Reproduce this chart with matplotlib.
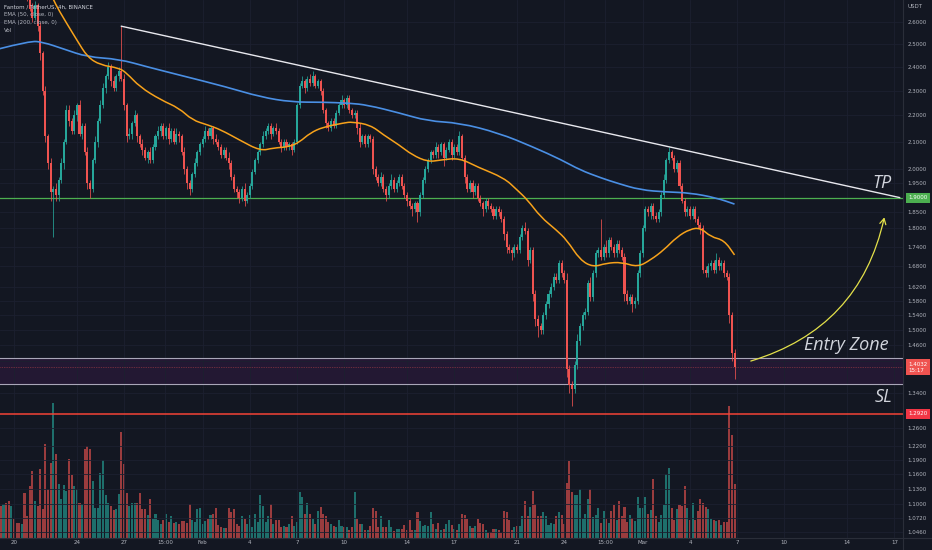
import numpy as np
import matplotlib
matplotlib.use("Agg")
import matplotlib.pyplot as plt
from matplotlib.ticker import FixedLocator, NullLocator
from matplotlib.patches import FancyArrowPatch, PathPatch
from matplotlib.path import Path
from matplotlib.lines import Line2D

# FTM / USDT 4h candles, first candle 19 Jan 00:00
first_open = 2.97
close = [
    2.95, 2.92, 2.98, 2.90, 2.88, 2.93, 2.86, 2.84, 2.80, 2.82,
    2.76, 2.72, 2.66, 2.62, 2.68, 2.58, 2.46, 2.30, 2.12, 2.02,
    1.92, 1.93, 1.91, 1.96, 2.02, 2.10, 2.22, 2.18, 2.14, 2.20,
    2.24, 2.13, 2.16, 2.06, 1.95, 1.93, 2.03, 2.10, 2.18, 2.24,
    2.31, 2.36, 2.40, 2.34, 2.31, 2.36, 2.38, 2.35, 2.24, 2.12,
    2.13, 2.17, 2.20, 2.12, 2.09, 2.07, 2.04, 2.06, 2.03, 2.08,
    2.12, 2.14, 2.16, 2.12, 2.15, 2.11, 2.14, 2.10, 2.13, 2.12,
    2.06, 2.00, 1.95, 1.93, 1.98, 2.02, 2.06, 2.09, 2.11, 2.14,
    2.12, 2.15, 2.11, 2.10, 2.08, 2.05, 2.07, 2.04, 2.02, 1.97,
    1.93, 1.92, 1.90, 1.93, 1.89, 1.91, 1.94, 1.99, 2.03, 2.06,
    2.09, 2.12, 2.14, 2.16, 2.13, 2.15, 2.14, 2.10, 2.08, 2.10,
    2.08, 2.09, 2.07, 2.10, 2.24, 2.32, 2.34, 2.31, 2.35, 2.33,
    2.36, 2.32, 2.34, 2.30, 2.22, 2.17, 2.15, 2.18, 2.16, 2.21,
    2.24, 2.26, 2.24, 2.27, 2.22, 2.20, 2.21, 2.15, 2.10, 2.12,
    2.09, 2.12, 2.11, 2.00, 1.97, 1.95, 1.97, 1.93, 1.91, 1.94,
    1.96, 1.93, 1.95, 1.97, 1.94, 1.91, 1.89, 1.87, 1.86, 1.88,
    1.85, 1.91, 1.96, 2.00, 2.03, 2.06, 2.05, 2.08, 2.06, 2.09,
    2.04, 2.07, 2.10, 2.05, 2.08, 2.06, 2.12, 2.04, 1.97, 1.93,
    1.95, 1.92, 1.94, 1.90, 1.88, 1.86, 1.89, 1.87, 1.86, 1.84,
    1.86, 1.85, 1.83, 1.78, 1.74, 1.73, 1.72, 1.74, 1.73, 1.77,
    1.80, 1.79, 1.70, 1.73, 1.60, 1.53, 1.51, 1.50, 1.54, 1.57,
    1.60, 1.62, 1.65, 1.64, 1.69, 1.66, 1.64, 1.40, 1.36, 1.35,
    1.41, 1.47, 1.51, 1.54, 1.55, 1.63, 1.59, 1.66, 1.72, 1.73,
    1.71, 1.74, 1.72, 1.76, 1.74, 1.72, 1.75, 1.73, 1.71, 1.60,
    1.58, 1.59, 1.57, 1.58, 1.66, 1.72, 1.80, 1.86, 1.85, 1.87,
    1.84, 1.83, 1.85, 1.91, 1.96, 2.03, 2.06, 2.04, 2.00, 2.02,
    1.94, 1.89, 1.85, 1.86, 1.84, 1.86, 1.83, 1.81, 1.80, 1.67,
    1.66, 1.68, 1.69, 1.67, 1.70, 1.68, 1.69, 1.66, 1.65, 1.54,
    1.44, 1.4032,
]
# wick lengths above / below the body, in cents
wick_hi = [
    1, 2, 1, 1, 2, 1, 1, 2, 1, 1, 2, 1, 2, 3, 2, 1, 2, 1, 2, 1,
    2, 1, 2, 1, 2, 1, 2, 2, 1, 2, 1, 2, 1, 1, 2, 1, 1, 2, 1, 2,
    2, 1, 2, 1, 2, 1, 2, 20, 2, 1, 2, 1, 2, 1, 1, 2, 1, 1, 2, 1,
    1, 2, 1, 1, 1, 2, 1, 1, 2, 1, 1, 2, 1, 1, 1, 2, 1, 1, 1, 2,
    1, 1, 1, 2, 1, 1, 1, 1, 2, 1, 1, 1, 1, 1, 2, 1, 1, 1, 1, 1,
    1, 2, 1, 1, 1, 1, 2, 1, 1, 1, 1, 1, 1, 1, 1, 1, 2, 1, 1, 2,
    2, 1, 1, 1, 1, 1, 1, 1, 1, 1, 1, 2, 1, 1, 1, 1, 1, 1, 2, 1,
    1, 1, 1, 1, 1, 1, 2, 1, 1, 1, 2, 1, 1, 1, 1, 1, 1, 1, 1, 1,
    1, 1, 1, 1, 1, 1, 1, 2, 1, 1, 1, 1, 1, 1, 1, 1, 2, 1, 1, 1,
    1, 1, 1, 1, 1, 1, 1, 1, 1, 1, 1, 1, 1, 1, 1, 1, 1, 1, 1, 1,
    1, 2, 1, 1, 1, 1, 1, 1, 1, 1, 1, 1, 1, 1, 1, 1, 1, 2, 1, 1,
    1, 2, 1, 1, 1, 1, 2, 1, 1, 1, 10, 1, 2, 1, 1, 1, 1, 1, 1, 1,
    1, 1, 1, 1, 1, 1, 1, 1, 1, 1, 1, 1, 1, 1, 2, 1, 2, 1, 1, 1,
    1, 1, 1, 1, 1, 1, 1, 1, 1, 1, 1, 1, 1, 1, 2, 1, 1, 1, 1, 1,
    1, 1,
]
wick_lo = [
    2, 1, 1, 2, 1, 2, 1, 1, 2, 1, 1, 2, 1, 2, 1, 2, 3, 2, 2, 2,
    3, 15, 2, 2, 1, 2, 1, 2, 1, 1, 2, 1, 2, 1, 2, 3, 1, 1, 2, 1,
    1, 2, 1, 2, 1, 1, 2, 1, 2, 2, 1, 2, 1, 2, 1, 2, 1, 2, 1, 1,
    1, 1, 2, 1, 1, 2, 1, 1, 1, 2, 1, 2, 2, 2, 1, 1, 1, 1, 1, 1,
    1, 1, 2, 1, 1, 1, 1, 1, 2, 1, 1, 2, 2, 1, 2, 1, 1, 1, 1, 1,
    1, 1, 1, 1, 2, 1, 1, 1, 2, 1, 1, 1, 2, 1, 1, 1, 1, 2, 1, 1,
    1, 1, 1, 2, 1, 2, 1, 1, 1, 1, 1, 1, 1, 1, 1, 1, 1, 2, 2, 1,
    1, 1, 1, 2, 1, 1, 1, 1, 2, 1, 1, 1, 1, 1, 1, 1, 2, 1, 2, 1,
    3, 1, 1, 1, 1, 1, 1, 1, 2, 1, 3, 1, 1, 2, 1, 1, 1, 1, 2, 1,
    1, 2, 1, 1, 1, 2, 1, 1, 1, 1, 1, 1, 1, 2, 2, 1, 2, 1, 1, 1,
    1, 1, 2, 1, 2, 2, 3, 1, 1, 1, 1, 1, 1, 1, 1, 1, 1, 2, 2, 4,
    1, 1, 1, 1, 1, 1, 1, 1, 1, 1, 1, 1, 1, 1, 1, 1, 1, 1, 1, 2,
    1, 1, 2, 1, 1, 1, 1, 1, 1, 2, 1, 1, 1, 1, 1, 1, 1, 1, 1, 1,
    1, 1, 1, 1, 1, 1, 1, 1, 2, 1, 1, 1, 1, 1, 1, 1, 1, 1, 1, 2,
    2, 3,
]
volume = [
    30,
    31, 33, 34, 36, 31, 19, 15, 15, 14, 44,
    22, 51, 66, 36, 31, 68, 28, 93, 48, 74,
    134, 83, 53, 38, 52, 46, 78, 62, 51, 48,
    34, 33, 88, 91, 88, 56, 29, 29, 64, 77,
    42, 34, 31, 27, 28, 43, 105, 73, 44, 31,
    34, 34, 34, 44, 28, 28, 23, 38, 19, 24,
    18, 14, 18, 24, 16, 22, 15, 16, 14, 17,
    17, 15, 33, 18, 16, 28, 29, 14, 17, 19,
    23, 24, 29, 13, 11, 10, 10, 29, 25, 28,
    14, 12, 22, 19, 14, 23, 11, 24, 16, 42,
    31, 16, 22, 33, 14, 18, 18, 11, 12, 11,
    14, 22, 12, 16, 45, 40, 24, 34, 24, 19,
    14, 26, 30, 24, 22, 16, 14, 12, 11, 18,
    12, 11, 11, 8, 11, 45, 19, 14, 14, 8,
    8, 12, 29, 26, 11,
    22, 11, 11, 18, 11, 7, 9, 9, 9, 13,
    8, 18, 8, 8, 25, 17, 12, 13, 12, 25,
    14, 9, 15, 8, 9, 14, 18, 13, 9, 8,
    14, 24, 23, 19, 12, 10, 12, 19, 15, 14,
    8, 5, 6, 9, 9, 8, 5, 26, 25, 18,
    8, 11, 12, 12, 22, 36, 22, 30,
    46, 33, 22, 22, 25, 22, 13, 15, 14, 22,
    25, 23, 14, 54, 76, 45, 42, 42, 48, 19,
    24, 38, 48, 21, 23, 29, 15, 26, 19, 15,
    26, 32, 18, 36, 22, 30, 16, 23, 20,
    17, 40, 29, 29, 40, 24, 27, 58, 22, 16,
    23, 32, 63, 69, 29, 18, 28, 32, 31, 51,
    29, 18, 34, 18, 26, 38, 34, 30, 28, 19,
    18, 17, 18, 13, 16, 16, 131, 102, 53,
]

# indicator values (candle index, price)
ema50_idx = [14, 21, 26, 30, 34, 39, 46, 49, 54, 62,
             69, 74, 80, 85, 92, 100, 105, 111, 115, 119,
             124, 132, 135, 142, 147, 153, 158, 164, 169, 176,
             183, 193, 198, 202, 207, 213, 217, 222, 227, 232,
             238, 244, 249, 254, 259, 264, 268, 272, 277, 281]
ema50_val = [2.90, 2.70, 2.595, 2.517, 2.442, 2.407, 2.395, 2.373, 2.315, 2.262,
             2.229, 2.182, 2.163, 2.144, 2.106, 2.065, 2.076, 2.080, 2.098, 2.132,
             2.155, 2.171, 2.175, 2.163, 2.125, 2.087, 2.050, 2.025, 2.032, 2.039,
             2.006, 1.968, 1.926, 1.892, 1.835, 1.793, 1.761, 1.700, 1.678, 1.690,
             1.693, 1.678, 1.700, 1.730, 1.771, 1.796, 1.800, 1.771, 1.761, 1.715]
ema200_idx = [0, 12, 17, 25, 34, 46, 57, 69, 87, 100,
              112, 123, 134, 141, 153, 164, 176, 191, 204, 215,
              222, 230, 236, 245, 255, 264, 274, 281]
ema200_val = [2.477, 2.513, 2.508, 2.477, 2.442, 2.433, 2.399, 2.365, 2.315, 2.274,
              2.253, 2.253, 2.249, 2.241, 2.210, 2.178, 2.171, 2.132, 2.080, 2.032,
              1.996, 1.968, 1.950, 1.926, 1.919, 1.916, 1.899, 1.878]

trend_idx = [47, 344]
trend_val = [2.58, 1.90]

tp_level = 1.90
sl_level = 1.292
zone_top = 1.427
zone_bottom = 1.362
last_price = 1.4032
last_countdown = "15:17"

arrow_start = (286.2, 1.417)
arrow_end = (338.4, 1.843)

price_ticks = [2.6, 2.5, 2.4, 2.3, 2.2, 2.1, 2.0, 1.95, 1.85, 1.80, 1.74, 1.68,
               1.62, 1.58, 1.54, 1.50, 1.46, 1.42, 1.34, 1.26, 1.22, 1.19,
               1.16, 1.13, 1.10, 1.072, 1.046]
date_days = [0, 4, 7, 9.625, 12, 15, 18, 21, 25, 28, 32, 35, 37.625, 40,
             43, 46, 49, 53, 56]
date_labels = ["20", "24", "27", "15:00", "Feb", "4", "7", "10", "14", "17",
               "21", "24", "15:00", "Mar", "4", "7", "10", "14", "17"]

BG = "#131722"
UP = "#26a69a"
DOWN = "#ef5350"
TXT = "#b2b5be"

close = np.array(close)
opn = np.concatenate([[first_open], close[:-1]])
high = np.maximum(opn, close) + np.array(wick_hi) / 100
low = np.minimum(opn, close) - np.array(wick_lo) / 100
x = np.arange(len(close))
up = close >= opn
colors = np.where(up, UP, DOWN)


def smooth_line(ax, xs, ys, color, lw):
    # quadratic bezier through the midpoints, so the read points give a soft curve
    verts = [(xs[0], ys[0])]
    codes = [Path.MOVETO]
    for k in range(1, len(xs) - 1):
        verts.append((xs[k], ys[k]))
        verts.append(((xs[k] + xs[k + 1]) / 2, (ys[k] + ys[k + 1]) / 2))
        codes += [Path.CURVE3, Path.CURVE3]
    verts.append((xs[-1], ys[-1]))
    codes.append(Path.LINETO)
    ax.add_patch(PathPatch(Path(verts, codes), fill=False, edgecolor=color,
                           lw=lw, zorder=5))


fig = plt.figure(figsize=(9.32, 5.5), dpi=100, facecolor=BG)
rect = [0, 12.3 / 550, 903 / 932, 537.7 / 550]
xlim = (0.656, 345.3)

# volume underneath
axv = fig.add_axes(rect)
axv.bar(x, volume, width=0.78, color=colors, alpha=0.62, linewidth=0)
axv.set_xlim(*xlim)
axv.set_ylim(0, max(volume) * 3.98)
axv.axis("off")

ax = fig.add_axes(rect)
ax.set_facecolor("none")
ax.set_yscale("log")
ax.set_xlim(*xlim)
ax.set_ylim(1.0351, 2.7037)
for s in ax.spines.values():
    s.set_visible(False)

ax.yaxis.set_major_locator(FixedLocator(price_ticks))
ax.yaxis.set_minor_locator(NullLocator())
ax.set_yticklabels([f"{t:.4f}" for t in price_ticks])
ax.yaxis.tick_right()
date_idx = [6 + 6 * d for d in date_days]
ax.set_xticks(date_idx)
ax.set_xticklabels(date_labels)
ax.xaxis.set_minor_locator(NullLocator())
ax.tick_params(axis="y", length=0, pad=3, labelsize=4, labelcolor=TXT)
ax.tick_params(axis="x", length=0, pad=2, labelsize=4, labelcolor=TXT)
ax.grid(True, color="#1c2030", lw=0.6, zorder=0)

# zones and levels
ax.axhspan(zone_bottom, zone_top, color="#9c27b0", alpha=0.12, lw=0, zorder=1)
ax.axhline(zone_top, color="#a9a6b8", lw=0.8, zorder=2)
ax.axhline(zone_bottom, color="#a9a6b8", lw=0.8, zorder=2)
ax.axhline(last_price, color=DOWN, lw=0.5, ls=(0, (1, 1.5)), alpha=0.7, zorder=2)
ax.axhline(tp_level, color="#4caf50", lw=0.9, zorder=2)
ax.axhline(sl_level, color="#f44336", lw=1.1, zorder=2)

# candles
ax.vlines(x, low, high, colors=colors, lw=0.55, zorder=3)
body = np.maximum(np.abs(close - opn), 0.002)
ax.bar(x, body, bottom=np.minimum(opn, close), width=0.78, color=colors,
       linewidth=0, zorder=4)

smooth_line(ax, ema200_idx, ema200_val, "#4a8fe4", 1.2)
smooth_line(ax, ema50_idx, ema50_val, "#f7a21b", 1.1)
ax.plot(trend_idx, trend_val, color="#e8e8ee", lw=1.0, zorder=5)

arrow = FancyArrowPatch(arrow_start, arrow_end, connectionstyle="arc3,rad=0.3",
                        arrowstyle="->,head_length=4,head_width=2.2",
                        color="#e3e04a", lw=0.9, zorder=6)
ax.add_patch(arrow)

note = dict(color="#d1d4dc", fontsize=13, style="italic",
            family="Open Sans", ha="center", va="center", zorder=7)
ax.text(337.3, 1.95, "TP", **note)
ax.text(323.6, 1.46, "Entry Zone", **note)
ax.text(337.7, 1.331, "SL", **note)


# price tags on the scale
def tag(val, text, color):
    ax.annotate(text, xy=(1.0, val), xycoords=("axes fraction", "data"),
                xytext=(5, 0), textcoords="offset pixels", ha="left",
                va="center", fontsize=4, color="white", annotation_clip=False,
                bbox=dict(boxstyle="square,pad=0.45", fc=color, ec="none"),
                zorder=8)


tag(tp_level, f"{tp_level:.4f}", "#4caf50")
tag(last_price, f"{last_price:.4f}\n{last_countdown}", DOWN)
tag(sl_level, f"{sl_level:.4f}", "#f23645")

fig.text(915 / 932, 1 - 7 / 550, "USDT", fontsize=4, color=TXT,
         ha="center", va="center")

legend = ["Fantom / TetherUS, 4h, BINANCE", "EMA (50, close, 0)",
          "EMA (200, close, 0)", "Vol"]
for k, line in enumerate(legend):
    fig.text(4 / 932, 1 - (7.3 + 7.6 * k) / 550, line, fontsize=4,
             color="#d1d4dc" if k == 0 else TXT, ha="left", va="center")

fig.add_artist(Line2D([903 / 932] * 2, [0, 1], color="#2a2e39", lw=0.8))
fig.add_artist(Line2D([0, 1], [12.3 / 550] * 2, color="#2a2e39", lw=0.8))

fig.savefig("out.png", dpi=100, facecolor=BG)
